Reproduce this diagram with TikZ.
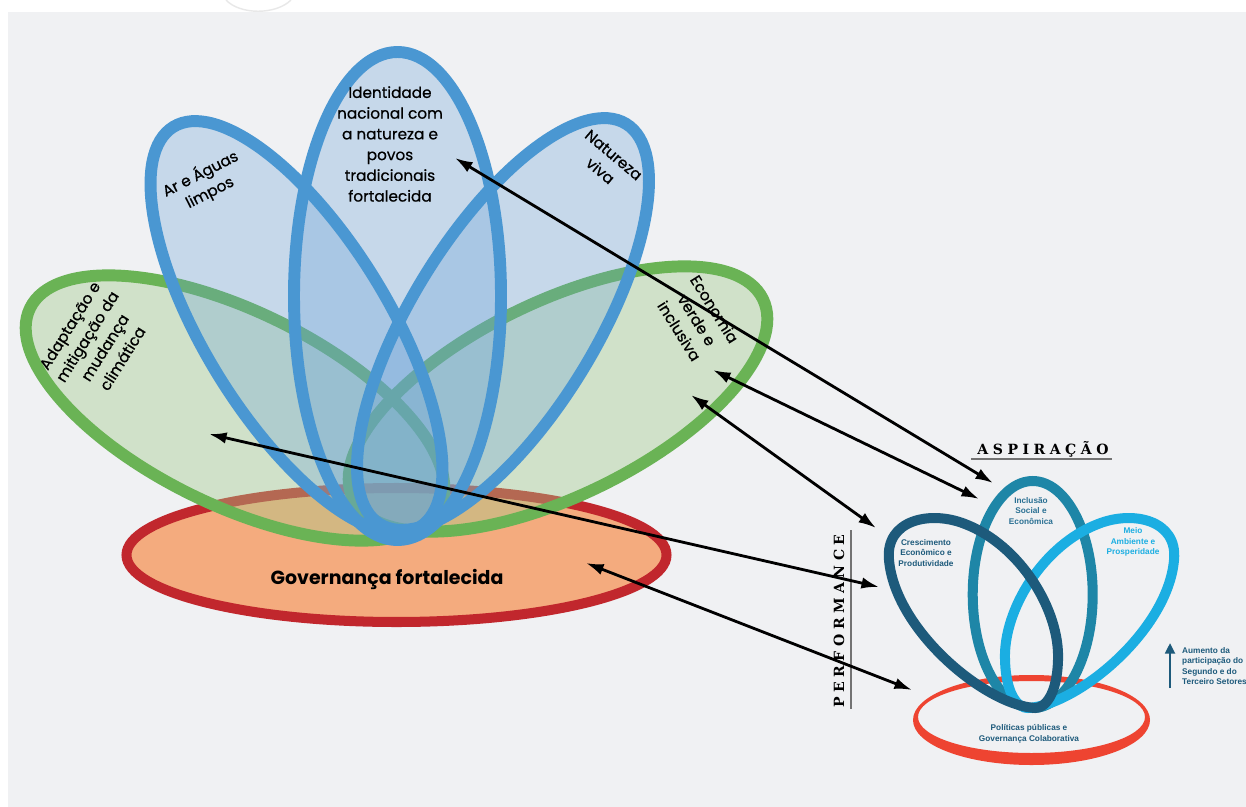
\documentclass[tikz,border=0pt]{standalone}
\usepackage{fontspec}
\usetikzlibrary{arrows.meta}
\newfontfamily\petalfont[FakeBold=0.6]{Poppins}
\newfontfamily\govfont{Poppins}
\newfontfamily\smallfont{Liberation Sans}
\newfontfamily\spacedfont[LetterSpace=32]{DejaVu Serif}

\definecolor{bggrey}{HTML}{F0F1F3}
\definecolor{petalblue}{HTML}{4A97D2}
\definecolor{bluefill}{HTML}{67A1D8}
\definecolor{petalgreen}{HTML}{6AB355}
\definecolor{greenfill}{HTML}{A2CB8A}
\definecolor{govred}{HTML}{C1272D}
\definecolor{govfill}{HTML}{F4AB7E}
\definecolor{darkpetal}{HTML}{1D5A7B}
\definecolor{tealpetal}{HTML}{1E86A7}
\definecolor{lightpetal}{HTML}{1BAEE2}
\definecolor{polred}{HTML}{EE4431}
\definecolor{tealtext}{HTML}{2A7093}

\begin{document}
\begin{tikzpicture}[x=0.02cm, y=0.02cm,
  arr/.style={line width=1.6pt, {Latex[length=10pt,width=6.5pt]}-{Latex[length=10pt,width=6.5pt]}},
  petaltext/.style={font=\petalfont\fontsize{8.7}{11.8}\selectfont, align=center},
  smalltext/.style={font=\smallfont\bfseries\fontsize{4.7}{5.9}\selectfont, align=center},
  spacedtext/.style={font=\spacedfont\bfseries\fontsize{8}{9}\selectfont}]

\useasboundingbox (0,0) rectangle (1246,-807);
\fill[white] (0,0) rectangle (1246,-807);
\fill[bggrey] (8,-12) rectangle (1246,-807);
\draw[black!9, line width=0.8pt] (226,0) .. controls (240,-15) and (276,-15) .. (291,0);

% big flower
\filldraw[govfill, draw=govred, line width=5.7pt] (396.5,-555) ellipse [x radius=270, y radius=67];

\fill[greenfill, fill opacity=0.4, rotate around={-26:(235,-408)}] (235,-408) ellipse [x radius=228, y radius=97];
\fill[greenfill, fill opacity=0.4, rotate around={26:(558,-399)}] (558,-399) ellipse [x radius=228, y radius=97];
\draw[petalgreen, line width=6.8pt, rotate around={-26:(235,-408)}] (235,-408) ellipse [x radius=228, y radius=97];
\draw[petalgreen, line width=6.8pt, rotate around={26:(558,-399)}] (558,-399) ellipse [x radius=228, y radius=97];

\fill[bluefill, fill opacity=0.3, rotate around={-58.4:(296.5,-327)}] (296.5,-327) ellipse [x radius=235, y radius=92];
\fill[bluefill, fill opacity=0.3, rotate around={58.4:(503,-324)}] (503,-324) ellipse [x radius=235, y radius=92];
\fill[bluefill, fill opacity=0.3] (397.5,-296) ellipse [x radius=103.5, y radius=244];
\draw[petalblue, line width=6.8pt, rotate around={-58.4:(296.5,-327)}] (296.5,-327) ellipse [x radius=235, y radius=92];
\draw[petalblue, line width=6.8pt, rotate around={58.4:(503,-324)}] (503,-324) ellipse [x radius=235, y radius=92];
\draw[petalblue, line width=6.8pt] (397.5,-296) ellipse [x radius=103.5, y radius=244];

\node[petaltext] (ident) at (390,-144) {Identidade\\nacional com\\a natureza e\\povos\\tradicionais\\fortalecida};
\node[petaltext, rotate=27] (arAguas) at (205,-183) {Ar e Águas\\limpos};
\node[petaltext, rotate=-40] (natureza) at (607,-163) {Natureza\\viva};
\node[petaltext, rotate=58] (adaptacao) at (96,-342) {Adaptação e\\mitigação da\\mudança\\climática};
\node[petaltext, rotate=-58] (economia) at (697,-320) {Economia\\verde e\\inclusiva};
\node[font=\govfont\bfseries\fontsize{10.8}{12}\selectfont] (gov) at (387,-579) {Governança fortalecida};

% small flower
\fill[polred, even odd rule] (1031.5,-720) ellipse [x radius=118.5, y radius=45] (1031.5,-717) ellipse [x radius=113.5, y radius=36];
\draw[tealpetal, line width=5.7pt] (1032.7,-594.5) ellipse [x radius=60, y radius=113.5];
\draw[lightpetal, line width=5.7pt] (1028,-708) .. controls (1078,-705) and (1168,-630) .. (1174,-560)
  .. controls (1178,-520) and (1133,-510) .. (1098,-524) .. controls (1043,-545) and (1003,-610) .. (1005,-660)
  .. controls (1006,-695) and (1018,-708) .. (1028,-708) -- cycle;
\draw[darkpetal, line width=5.7pt] (1035,-708) .. controls (985,-705) and (895,-630) .. (889,-560)
  .. controls (885,-520) and (930,-510) .. (965,-524) .. controls (1020,-545) and (1060,-610) .. (1058,-660)
  .. controls (1057,-695) and (1045,-708) .. (1035,-708) -- cycle;

\node[smalltext, text=tealtext] (inclusao) at (1031,-511) {Inclusão\\Social e\\Econômica};
\node[smalltext, text=darkpetal] (crescimento) at (926,-553) {Crescimento\\Econômico e\\Produtividade};
\node[smalltext, text=lightpetal] (meio) at (1133,-542) {Meio\\Ambiente e\\Prosperidade};
\node[smalltext, text=darkpetal] (politicas) at (1029,-734) {Políticas públicas e\\Governança Colaborativa};
\node[smalltext, text=darkpetal, align=left, anchor=west] (aumento) at (1176,-666) {Aumento da\\participação do\\Segundo e do\\Terceiro Setores};

\coordinate (upBase) at (1170,-688);
\coordinate (upTip) at (1170,-643);
\draw[darkpetal, line width=1.6pt, -{Triangle[length=6pt,width=5.5pt]}] (upBase) -- (upTip);

\node[spacedtext] (aspiracao) at (1043,-449) {ASPIRAÇÃO};
\draw[black!55, line width=0.6pt] (971,-459) -- (1112,-459);
\node[spacedtext, rotate=90] (performance) at (839,-621) {PERFORMANCE};
\draw[black!55, line width=0.6pt] (851,-530) -- (851,-709);

% arrows
\coordinate (identEnd) at (455,-158);
\coordinate (inclEndA) at (993,-483);
\coordinate (ecoEndA) at (713,-370);
\coordinate (inclEndB) at (979,-499);
\coordinate (ecoEndB) at (691,-395);
\coordinate (crescEndA) at (876,-528);
\coordinate (adaptEnd) at (209,-434);
\coordinate (crescEndB) at (879,-587);
\coordinate (govEnd) at (586,-563);
\coordinate (polEnd) at (912,-690);

\draw[arr] (identEnd) -- (inclEndA);
\draw[arr] (ecoEndA) -- (inclEndB);
\draw[arr] (ecoEndB) -- (crescEndA);
\draw[arr] (adaptEnd) -- (crescEndB);
\draw[arr] (govEnd) -- (polEnd);
\end{tikzpicture}
\end{document}
